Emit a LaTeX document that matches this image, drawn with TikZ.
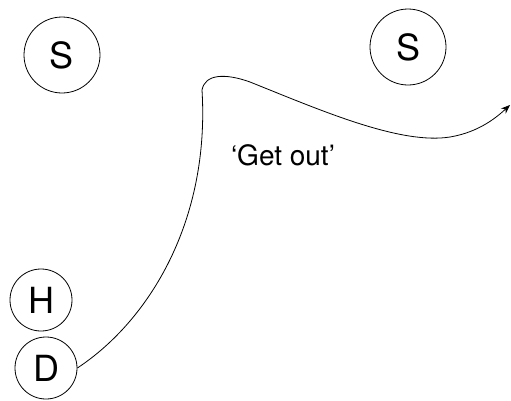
\documentclass[tikz,border=0pt]{standalone}
\usepackage{fontspec}
\setmainfont{TeX Gyre Heros}
\usetikzlibrary{arrows.meta, positioning}

\begin{document}
\begin{tikzpicture}[
			x=1pt, y=-1pt,
			>={Stealth[length=9pt, width=7pt]},
			big/.style={circle, draw, line width=0.8pt, inner sep=0pt, minimum size=76pt, font=\fontsize{36}{40}\selectfont},
			small/.style={circle, draw, line width=0.8pt, inner sep=0pt, minimum size=62pt, font=\fontsize{36}{40}\selectfont},
			label_text/.style={font=\fontsize{28}{32}\selectfont, inner sep=0pt}
			]
			\useasboundingbox (0,0) rectangle (511,400);
			
			% Circles
			\node[big] (s_left) at (62, 55) {S};
			\node[big] (s_right) at (408, 47) {S};
			\node[small] (h) at (41, 300) {H};
			\node[small] (d) at (46, 368) {D};
			
			% Route
			\coordinate (turn) at (202, 90);
			\coordinate (exit) at (510, 105);
			\node[label_text] (getout) at (283, 155) {‘Get out’};
			
			\draw[line width=0.8pt] (d.east) .. controls (150, 320) and (210, 220) .. (turn);
			\draw[->, line width=0.8pt] (turn) .. controls (205, 74) and (225, 73) .. (250, 82)
				.. controls (320, 110) and (400, 145) .. (450, 137)
				.. controls (480, 132) and (498, 116) .. (exit);
			
		\end{tikzpicture}
\end{document}
